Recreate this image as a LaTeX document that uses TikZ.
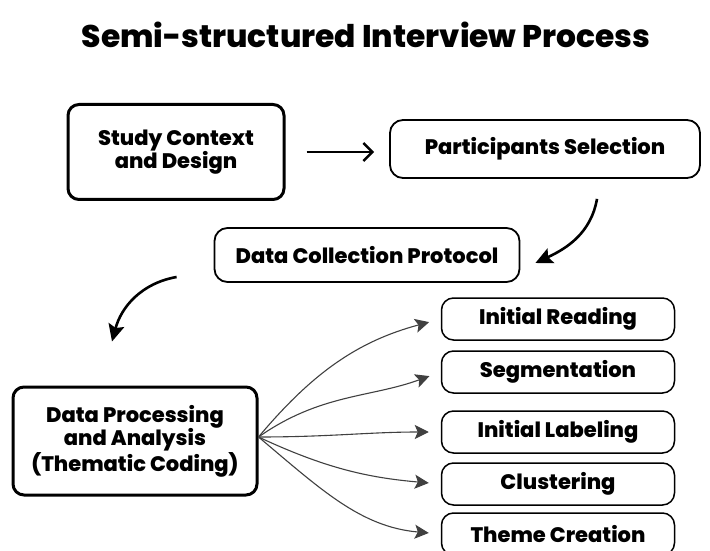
\documentclass[tikz,border=0pt]{standalone}
\usepackage{fontspec}
\setmainfont{Poppins}[BoldFont={* ExtraBold}]
\usetikzlibrary{arrows.meta, positioning}

\begin{document}
\begin{tikzpicture}[x=1pt, y=1pt,
    mainbox/.style={draw, line width=3pt, rounded corners=11pt, align=center, inner sep=2pt,
        font=\bfseries\fontsize{21}{23.5}\selectfont},
    flowbox/.style={draw, line width=1.8pt, rounded corners=13pt, align=center, inner sep=2pt,
        font=\bfseries\fontsize{21}{23}\selectfont},
    stepbox/.style={draw, line width=1.5pt, rounded corners=12pt, minimum width=233pt, minimum height=42pt,
        inner sep=2pt, font=\bfseries\fontsize{21}{23}\selectfont},
    curvy/.style={line width=2.6pt, -{Stealth[length=17pt, width=16pt, inset=3pt]}},
    fan/.style={line width=1.1pt, black!75, -{Stealth[length=14pt, width=14pt, inset=3pt]}, shorten >=12pt}
]
\useasboundingbox (0,0) rectangle (710,550);

% title
\node[font=\bfseries\fontsize{31.3}{34}\selectfont] (title) at (366,515) {Semi-structured Interview Process};

% main flow
\node[mainbox, minimum width=216pt, minimum height=95pt] (study) at (176,398) {Study Context\\and Design};
\node[flowbox, minimum width=310pt, minimum height=58pt] (part) at (545,401) {Participants Selection};
\node[flowbox, minimum width=305pt, minimum height=54pt] (collect) at (367,295) {Data Collection Protocol};
\node[mainbox, minimum width=244pt, minimum height=108pt] (process) at (135,109) {Data Processing\\and Analysis\\(Thematic Coding)};

% coding steps
\node[stepbox] (reading) at (558,231) {Initial Reading};
\node[stepbox] (segment) at (558,178) {Segmentation};
\node[stepbox] (labeling) at (558,118) {Initial Labeling};
\node[stepbox] (cluster) at (558,66) {Clustering};
\node[stepbox] (theme) at (558,16) {Theme Creation};

% connectors
\draw[line width=2.4pt, -{Straight Barb[length=9pt, width=18pt]}, shorten <=21pt, shorten >=15pt]
    (study.east) -- (study.east -| part.west);
\draw[curvy] ([xshift=52pt, yshift=-20pt]part.south) to[out=-100, in=25] ([xshift=15pt, yshift=-8pt]collect.east);
\draw[curvy] ([xshift=-37pt, yshift=-22pt]collect.west) to[out=190, in=75] ([xshift=-23pt, yshift=44pt]process.north);

\draw[fan] ([yshift=4pt]process.east) to[out=50, in=195] (reading.west);
\draw[fan] ([yshift=4pt]process.east) to[out=35, in=200] (segment.west);
\draw[fan] ([yshift=4pt]process.east) to[out=0, in=180] (labeling.west);
\draw[fan] ([yshift=4pt]process.east) to[out=-25, in=175] (cluster.west);
\draw[fan] ([yshift=4pt]process.east) to[out=-40, in=175] (theme.west);
\end{tikzpicture}
\end{document}
